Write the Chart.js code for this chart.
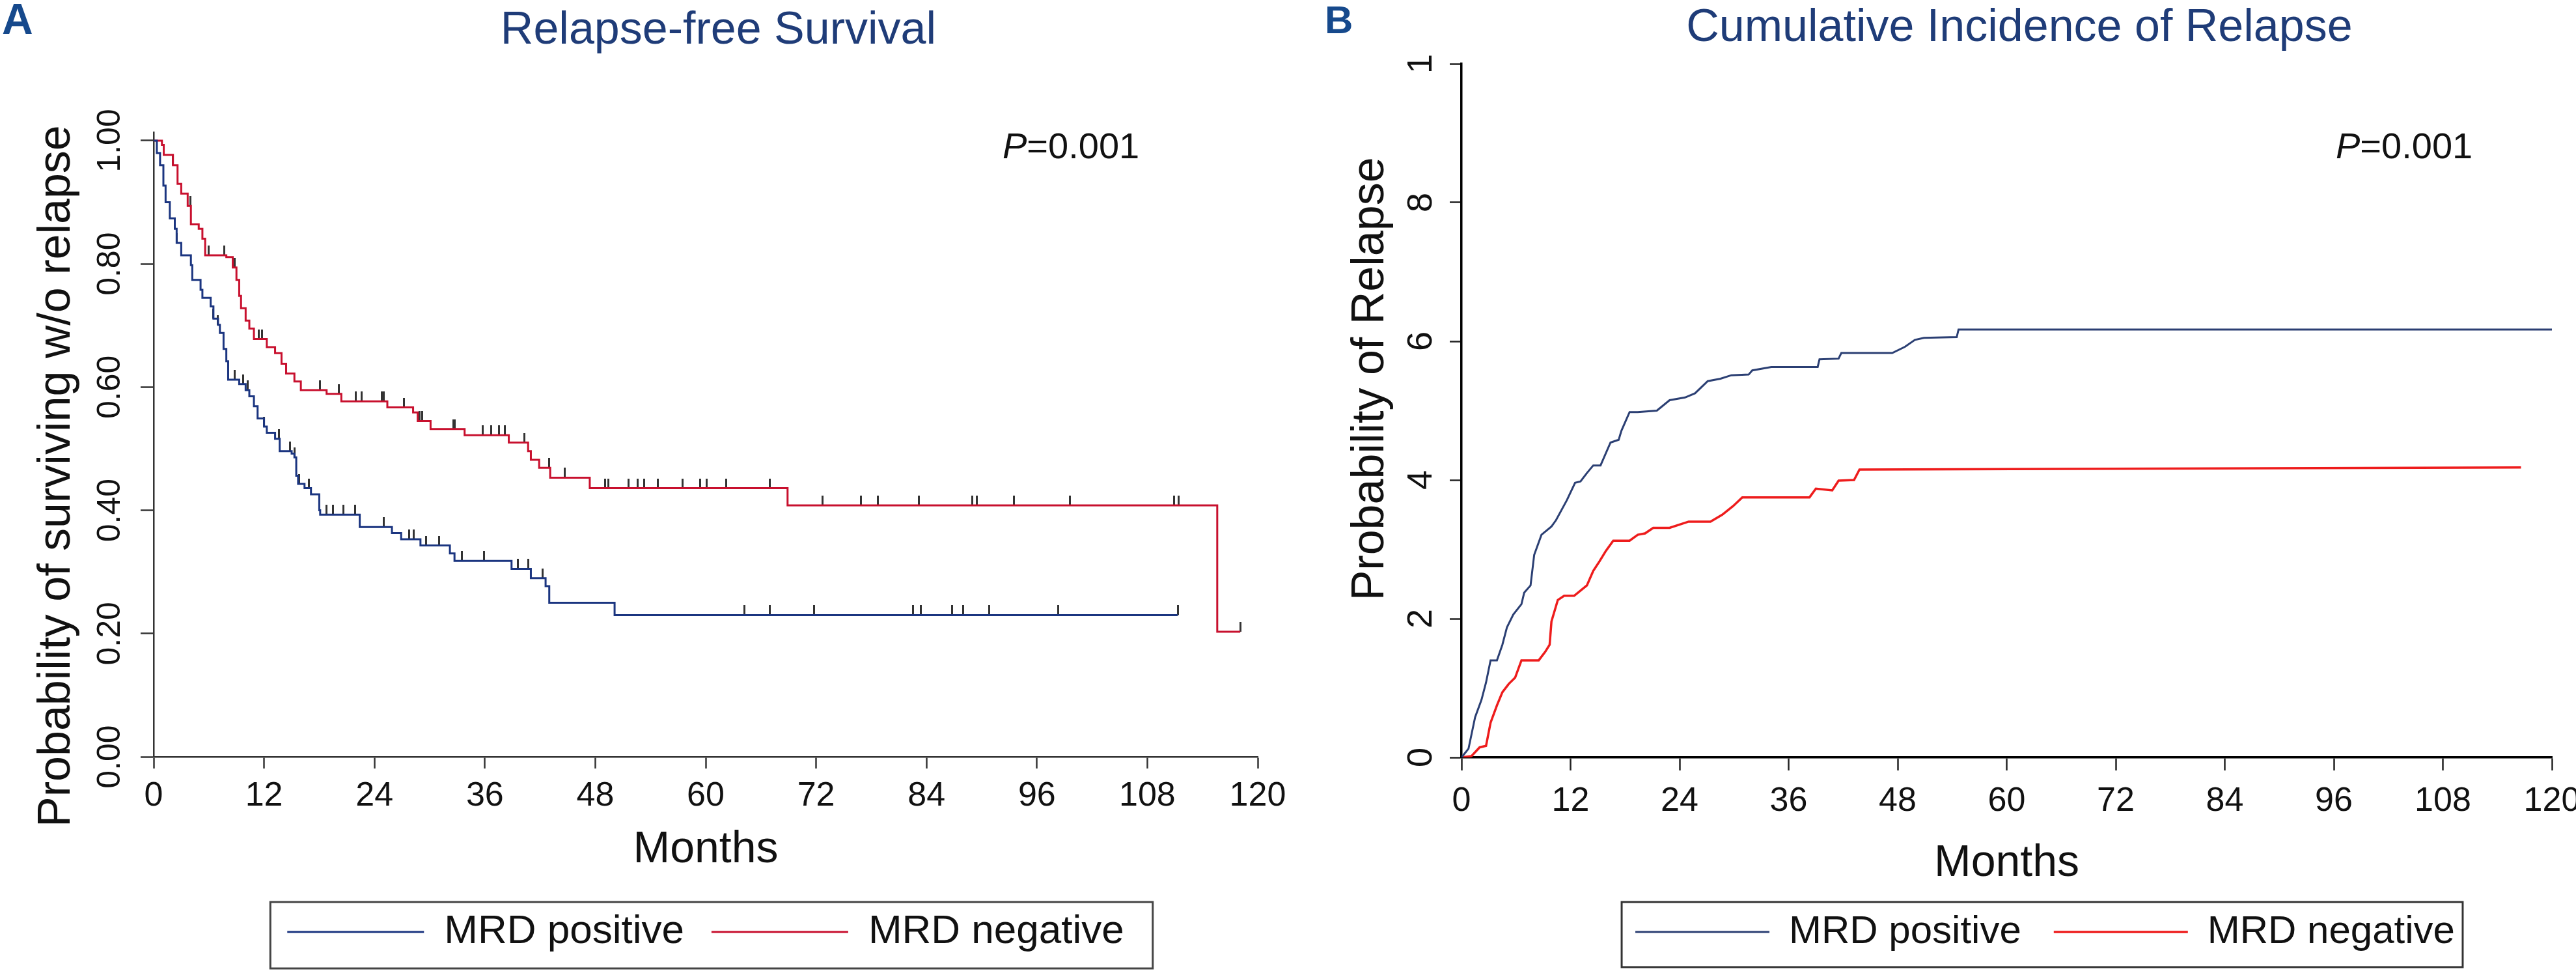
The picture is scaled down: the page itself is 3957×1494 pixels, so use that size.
<!DOCTYPE html>
<html>
<head>
<meta charset="utf-8">
<script src="https://cdn.jsdelivr.net/npm/chart.js@4.4.1/dist/chart.umd.min.js"></script>
<style>
  html, body { margin: 0; padding: 0; background: #fff; width: 3957px; height: 1494px; overflow: hidden; }
  canvas { position: absolute; top: 0; }
  #chartA { left: 0; }
  #chartB { left: 1978px; }
  .tag { position: absolute; font-family: "Liberation Sans", Arial, sans-serif; font-weight: bold; color: #16498c; line-height: 1; }
  .pval { position: absolute; font: 56px "Liberation Sans", Arial, sans-serif; color: #111; line-height: 1; }
</style>
</head>
<body>
<canvas id="chartA" width="1978" height="1494"></canvas>
<canvas id="chartB" width="1979" height="1494"></canvas>
<div class="tag" style="left:3px; top:-4px; font-size:66px;">A</div>
<div class="tag" style="left:2035px; top:1px; font-size:60px;">B</div>
<div class="pval" style="left:1540px; top:196px;"><i>P</i>=0.001</div>
<div class="pval" style="left:3588px; top:196px;"><i>P</i>=0.001</div>
<script>
// x axis (months) shared by both panels
const monthTicks = [0, 12, 24, 36, 48, 60, 72, 84, 96, 108, 120];

// Panel A: relapse-free survival (Kaplan-Meier)
const rfsTicks = [0, 0.2, 0.4, 0.6, 0.8, 1.0];
const rfsPosTime = [0, 0.35, 0.7, 1.06, 1.3, 1.76, 2.3, 2.5, 3.0, 4.05, 4.2, 5.1, 5.3, 6.2, 6.5, 7.0, 7.2, 7.6, 7.9, 8.1,
  9.3, 10.0, 10.4, 10.9, 11.3, 12.0, 12.3, 13.2, 13.7, 15.0, 15.3, 15.5, 15.7, 16.4, 17.1, 18.0, 18.1, 22.4, 25.9,
  26.9, 29.0, 32.2, 32.7, 38.9, 41.0, 42.6, 43.0, 50.1, 111.3];
const rfsPosSurv = [1.0, 0.98, 0.96, 0.927, 0.90, 0.874, 0.857, 0.834, 0.814, 0.798, 0.774, 0.758, 0.745, 0.731, 0.711,
  0.701, 0.688, 0.662, 0.642, 0.612, 0.605, 0.595, 0.585, 0.569, 0.549, 0.536, 0.526, 0.516, 0.496, 0.492, 0.486,
  0.456, 0.443, 0.436, 0.426, 0.40, 0.393, 0.373, 0.363, 0.353, 0.343, 0.33, 0.318, 0.305, 0.29, 0.277, 0.25, 0.23, 0.23];
const rfsPosCensor = [2.5, 6.5, 7.0, 8.8, 9.7, 10.2, 12.0, 13.6, 14.8, 15.3, 15.8, 16.9, 18.8, 19.5, 20.6, 21.9, 25.0,
  27.8, 28.3, 29.6, 31.0, 33.5, 35.9, 39.6, 40.7, 42.3, 64.2, 67.0, 71.8, 82.5, 83.4, 86.8, 88.0, 90.8, 98.3, 111.3];

const rfsNegTime = [0, 0.9, 1.1, 2.1, 2.6, 3.0, 3.7, 4.05, 4.9, 5.3, 5.6, 7.9, 8.6, 9.0, 9.3, 9.5, 10.0, 10.4, 10.9,
  12.3, 13.2, 13.9, 14.4, 15.3, 16.0, 18.8, 20.4, 25.4, 28.2, 28.7, 30.1, 33.8, 38.6, 40.7, 41.0, 41.9, 43.1, 47.4,
  68.9, 115.6, 118.1];
const rfsNegSurv = [1.0, 0.993, 0.977, 0.960, 0.930, 0.914, 0.894, 0.864, 0.857, 0.841, 0.814, 0.811, 0.794, 0.774,
  0.748, 0.728, 0.708, 0.695, 0.678, 0.665, 0.655, 0.638, 0.622, 0.609, 0.595, 0.589, 0.577, 0.567, 0.559, 0.545,
  0.532, 0.522, 0.510, 0.496, 0.482, 0.469, 0.453, 0.436, 0.408, 0.203, 0.203];
const rfsNegCensor = [2.1, 4.0, 6.0, 7.7, 8.8, 11.4, 11.8, 18.1, 20.1, 22.0, 22.6, 24.8, 25.0, 27.2, 28.9, 29.2, 32.6,
  32.7, 35.8, 36.7, 37.5, 38.2, 40.3, 43.0, 44.7, 49.1, 49.4, 51.6, 52.6, 53.3, 54.8, 57.5, 59.4, 60.1, 62.2, 67.0,
  72.7, 76.9, 78.7, 83.2, 89.0, 89.5, 93.5, 99.6, 110.9, 111.4, 118.1];

// Panel B: cumulative incidence of relapse
const cirTicks = [0, 0.2, 0.4, 0.6, 0.8, 1.0];
const cirTickLabels = ['0', '2', '4', '6', '8', '1'];
const cirPosTime = [0, 0.77, 1.5, 2.2, 2.7, 3.2, 3.9, 4.5, 5.0, 5.7, 6.6, 6.9, 7.6, 8.0, 8.8, 9.9, 10.4, 11.6, 12.5,
  13.1, 13.8, 14.5, 15.3, 15.7, 16.4, 17.3, 17.6, 18.5, 19.4, 21.5, 22.9, 24.6, 25.7, 27.1, 28.5, 29.7, 31.6, 32.0,
  34.1, 39.2, 39.4, 41.5, 41.8, 47.4, 48.8, 49.9, 50.9, 54.5, 54.7, 120];
const cirPosVal = [0, 0.0125, 0.058, 0.083, 0.108, 0.14, 0.14, 0.1625, 0.1875, 0.206, 0.221, 0.2375, 0.248, 0.292,
  0.321, 0.333, 0.342, 0.371, 0.396, 0.398, 0.41, 0.421, 0.421, 0.433, 0.454, 0.458, 0.471, 0.498, 0.498, 0.50,
  0.515, 0.519, 0.525, 0.5425, 0.546, 0.551, 0.552, 0.558, 0.563, 0.563, 0.574, 0.575, 0.583, 0.583, 0.592, 0.602,
  0.605, 0.606, 0.617, 0.617];
const cirNegTime = [0, 1.1, 2.0, 2.7, 3.2, 3.9, 4.5, 5.2, 5.9, 6.6, 8.5, 9.2, 9.7, 9.9, 10.6, 11.3, 12.4, 13.8, 14.5,
  15.2, 15.9, 16.7, 18.5, 19.4, 20.2, 21.1, 22.9, 25.0, 27.4, 28.7, 29.9, 30.9, 38.3, 39.0, 40.8, 41.5, 43.2, 43.8, 116.6];
const cirNegVal = [0, 0.002, 0.0146, 0.0167, 0.05, 0.075, 0.094, 0.106, 0.115, 0.14, 0.14, 0.152, 0.1625, 0.196,
  0.227, 0.233, 0.233, 0.248, 0.269, 0.283, 0.298, 0.3125, 0.3125, 0.321, 0.323, 0.331, 0.331, 0.340, 0.340, 0.35,
  0.3625, 0.375, 0.375, 0.3875, 0.385, 0.399, 0.40, 0.415, 0.418];

const FONT = '"Liberation Sans", Arial, sans-serif';
const NB = '\u00a0';

function points(xs, ys) {
  return xs.map((x, i) => ({ x: x, y: ys[i] }));
}

// value of a KM step curve at time t
function stepValue(times, values, t) {
  let v = values[0];
  for (let i = 0; i < times.length; i++) {
    if (times[i] <= t) v = values[i];
  }
  return v;
}

// small vertical censor mark sitting on top of the curve
function censorMark(color, len, w) {
  const c = document.createElement('canvas');
  c.width = w;
  c.height = len * 2;
  const g = c.getContext('2d');
  g.fillStyle = color;
  g.fillRect(0, 0, w, len);
  return c;
}

// frames the legend items with a box, optionally nudging the legend sideways
const legendFrame = {
  id: 'legendFrame',
  afterLayout(chart, args, opts) {
    if (opts.shift) {
      chart.legend.left += opts.shift;
      chart.legend.right += opts.shift;
    }
  },
  afterDraw(chart, args, opts) {
    const boxes = chart.legend.legendHitBoxes;
    if (!boxes || !boxes.length) return;
    const left = Math.min(...boxes.map(b => b.left)) - opts.padLeft;
    const right = Math.max(...boxes.map(b => b.left + b.width)) + opts.padRight;
    const top = boxes[0].top - opts.padTop;
    const bottom = boxes[0].top + boxes[0].height + opts.padBottom;
    const ctx = chart.ctx;
    ctx.save();
    ctx.strokeStyle = opts.color;
    ctx.lineWidth = opts.width;
    ctx.strokeRect(left, top, right - left, bottom - top);
    ctx.restore();
  }
};

const mark = censorMark('#333', 15, 3);

new Chart(document.getElementById('chartA'), {
  type: 'line',
  plugins: [legendFrame],
  data: {
    datasets: [
      {
        label: 'MRD positive',
        data: points(rfsPosTime, rfsPosSurv),
        borderColor: '#1b3580',
        backgroundColor: '#1b3580',
        borderWidth: 3,
        stepped: 'before',
        pointRadius: 0
      },
      {
        label: 'MRD negative',
        data: points(rfsNegTime, rfsNegSurv),
        borderColor: '#c8102e',
        backgroundColor: '#c8102e',
        borderWidth: 3,
        stepped: 'before',
        pointRadius: 0
      },
      {
        label: 'censored positive',
        data: rfsPosCensor.map(t => ({ x: t, y: stepValue(rfsPosTime, rfsPosSurv, t) })),
        showLine: false,
        pointStyle: mark,
        pointRadius: 3
      },
      {
        label: 'censored negative',
        data: rfsNegCensor.map(t => ({ x: t, y: stepValue(rfsNegTime, rfsNegSurv, t) })),
        showLine: false,
        pointStyle: mark,
        pointRadius: 3
      }
    ]
  },
  options: {
    responsive: false,
    animation: false,
    devicePixelRatio: 1,
    layout: { padding: { left: 0, right: 46, top: 0, bottom: 22 } },
    plugins: {
      title: {
        display: true,
        text: NB + NB + 'Relapse-free Survival',
        fullSize: false,
        color: '#1f3c78',
        font: { family: FONT, size: 70, weight: 'normal' },
        padding: { top: 6, bottom: 113 }
      },
      legend: {
        position: 'bottom',
        fullSize: false,
        labels: {
          filter: item => item.datasetIndex < 2,
          usePointStyle: true,
          pointStyle: 'line',
          pointStyleWidth: 210,
          padding: 42,
          color: '#111',
          font: { family: FONT, size: 62 }
        }
      },
      tooltip: { enabled: false },
      legendFrame: { padLeft: 26, padRight: 44, padTop: 15, padBottom: 25, color: '#444', width: 3 }
    },
    scales: {
      x: {
        type: 'linear',
        min: 0,
        max: 120,
        afterBuildTicks: s => { s.ticks = monthTicks.map(v => ({ value: v })); },
        afterFit: s => { s.height = 196; s.paddingLeft = 0; s.paddingRight = 0; },
        border: { display: true, color: '#333', width: 2.5 },
        grid: { drawOnChartArea: false, drawTicks: true, tickLength: 18, tickColor: '#333', tickWidth: 2.5 },
        ticks: { autoSkip: false, maxRotation: 0, padding: 11, color: '#111', font: { family: FONT, size: 52 } },
        title: {
          display: true,
          text: 'Months',
          color: '#111',
          font: { family: FONT, size: 68 },
          padding: { top: 0, bottom: 12 }
        }
      },
      y: {
        type: 'linear',
        min: 0,
        max: 1.0137,
        afterBuildTicks: s => { s.ticks = rfsTicks.map(v => ({ value: v })); },
        afterFit: s => { s.width = 236; s.paddingTop = 0; s.paddingBottom = 0; },
        border: { display: true, color: '#333', width: 2.5 },
        grid: { drawOnChartArea: false, drawTicks: true, tickLength: 20, tickColor: '#333', tickWidth: 2.5 },
        ticks: {
          callback: v => v.toFixed(2),
          minRotation: 90,
          maxRotation: 90,
          crossAlign: 'center',
          padding: -3,
          color: '#111',
          font: { family: FONT, size: 50 }
        },
        title: {
          display: true,
          text: 'Probability of surviving w/o relapse' + NB.repeat(5),
          color: '#111',
          font: { family: FONT, size: 70 },
          padding: { top: 46, bottom: 0 }
        }
      }
    }
  }
});

new Chart(document.getElementById('chartB'), {
  type: 'line',
  plugins: [legendFrame],
  data: {
    datasets: [
      {
        label: 'MRD positive',
        data: points(cirPosTime, cirPosVal),
        borderColor: '#2b3f73',
        backgroundColor: '#2b3f73',
        borderWidth: 3,
        pointRadius: 0
      },
      {
        label: 'MRD negative',
        data: points(cirNegTime, cirNegVal),
        borderColor: '#ee1c1c',
        backgroundColor: '#ee1c1c',
        borderWidth: 3.5,
        pointRadius: 0
      }
    ]
  },
  options: {
    responsive: false,
    animation: false,
    devicePixelRatio: 1,
    layout: { padding: { left: 0, right: 37, top: 0, bottom: 23 } },
    plugins: {
      title: {
        display: true,
        text: NB + NB + 'Cumulative Incidence of Relapse',
        fullSize: false,
        color: '#1f3c78',
        font: { family: FONT, size: 70, weight: 'normal' },
        padding: { top: 2, bottom: 12 }
      },
      legend: {
        position: 'bottom',
        fullSize: false,
        labels: {
          usePointStyle: true,
          pointStyle: 'line',
          pointStyleWidth: 206,
          padding: 50,
          color: '#111',
          font: { family: FONT, size: 60 }
        }
      },
      tooltip: { enabled: false },
      legendFrame: { shift: 59, padLeft: 21, padRight: 12, padTop: 16, padBottom: 24, color: '#333', width: 3 }
    },
    scales: {
      x: {
        type: 'linear',
        min: 0,
        max: 120,
        afterBuildTicks: s => { s.ticks = monthTicks.map(v => ({ value: v })); },
        afterFit: s => { s.height = 188; s.paddingLeft = 0; s.paddingRight = 0; },
        border: { display: true, color: '#000', width: 3.5 },
        grid: { drawOnChartArea: false, drawTicks: true, tickLength: 20, tickColor: '#222', tickWidth: 2.5 },
        ticks: { autoSkip: false, maxRotation: 0, padding: 16, color: '#111', font: { family: FONT, size: 52 } },
        title: {
          display: true,
          text: 'Months',
          color: '#111',
          font: { family: FONT, size: 68 },
          padding: { top: 0, bottom: -16 }
        }
      },
      y: {
        type: 'linear',
        min: 0,
        max: 1,
        afterBuildTicks: s => { s.ticks = cirTicks.map(v => ({ value: v })); },
        afterFit: s => { s.width = 267; s.paddingTop = 0; s.paddingBottom = 0; },
        border: { display: true, color: '#000', width: 3.5 },
        grid: { drawOnChartArea: false, drawTicks: true, tickLength: 18, tickColor: '#222', tickWidth: 2.5 },
        ticks: {
          callback: (v, i) => cirTickLabels[i],
          minRotation: 90,
          maxRotation: 90,
          crossAlign: 'center',
          padding: 28,
          color: '#111',
          font: { family: FONT, size: 54 }
        },
        title: {
          display: true,
          text: NB.repeat(5) + 'Probability of Relapse',
          color: '#111',
          font: { family: FONT, size: 70 },
          padding: { top: 86, bottom: 0 }
        }
      }
    }
  }
});
</script>
</body>
</html>
